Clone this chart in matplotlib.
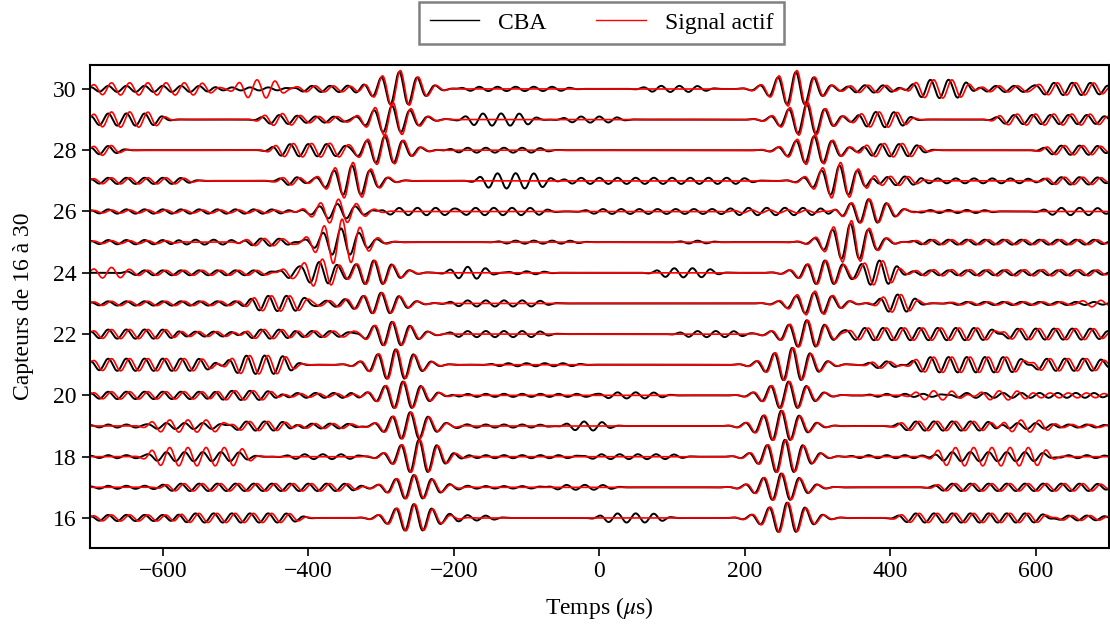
import numpy as np
import matplotlib
matplotlib.use("Agg")
import matplotlib.pyplot as plt

plt.rcParams["font.family"] = ["Liberation Serif", "DejaVu Serif"]
plt.rcParams["mathtext.fontset"] = "stix"

# sensors, bottom to top
channels = [16, 17, 18, 19, 20, 21, 22, 23, 24, 25, 26, 27, 28, 29, 30]

# main wave packets (time in us, amplitude in sensor units)
main_neg_t = [-255, -255, -248, -260, -270, -280, -285, -300, -310, -355, -360, -340, -295, -285, -275]
main_pos_t = [258, 250, 255, 250, 260, 265, 285, 295, 310, 345, 370, 330, 295, 285, 270]
main_neg_amp_cba = [0.45, 0.40, 0.55, 0.45, 0.45, 0.50, 0.40, 0.35, 0.40, 0.45, 0.25, 0.50, 0.45, 0.45, 0.55]
main_neg_amp_red = [0.45, 0.40, 0.55, 0.45, 0.45, 0.50, 0.40, 0.35, 0.40, 0.75, 0.40, 0.60, 0.50, 0.55, 0.60]
main_pos_amp_cba = [0.50, 0.45, 0.55, 0.50, 0.45, 0.55, 0.45, 0.35, 0.40, 0.60, 0.40, 0.50, 0.45, 0.50, 0.55]
main_pos_amp_red = [0.50, 0.45, 0.55, 0.50, 0.45, 0.55, 0.45, 0.40, 0.40, 0.70, 0.40, 0.60, 0.50, 0.55, 0.60]

# secondary ringing: (start, end, amplitude) per sensor
cba_segments = [
    [(-700, -580, 0.10), (-580, -410, 0.15), (-206, -140, 0.08), (0, 90, 0.15), (410, 620, 0.15), (620, 700, 0.08)],
    [(-700, -600, 0.05), (-600, -330, 0.12), (-206, -70, 0.04), (-70, 20, 0.08), (460, 700, 0.12)],
    [(-700, -620, 0.05), (-620, -480, 0.15), (-430, -330, 0.08), (-206, -22, 0.05), (-22, 115, 0.08),
     (345, 460, 0.05), (460, 620, 0.15), (620, 700, 0.05)],
    [(-700, -620, 0.05), (-620, -510, 0.10), (-510, -420, 0.15), (-420, -330, 0.08), (-206, -70, 0.05),
     (-46, 14, 0.15), (410, 550, 0.15), (550, 620, 0.10), (620, 700, 0.05)],
    [(-700, -530, 0.12), (-530, -440, 0.15), (-440, -330, 0.08), (-206, 0, 0.05), (0, 90, 0.10),
     (370, 480, 0.05), (480, 700, 0.08)],
    [(-700, -530, 0.20), (-510, -420, 0.30), (-150, -25, 0.05), (370, 410, 0.12), (430, 590, 0.25), (590, 700, 0.20)],
    [(-700, -580, 0.15), (-580, -490, 0.08), (-490, -420, 0.15), (-420, -330, 0.10), (-206, -70, 0.10),
     (110, 200, 0.10), (340, 550, 0.20), (550, 700, 0.18)],
    [(-700, -480, 0.07), (-480, -400, 0.25), (-400, -340, 0.08), (-206, -70, 0.10), (385, 435, 0.30), (480, 700, 0.05)],
    [(-650, -440, 0.08), (-440, -410, 0.20), (-410, -360, 0.35), (-206, -150, 0.20), (-125, -70, 0.05),
     (78, 160, 0.15), (360, 410, 0.40), (430, 700, 0.08)],
    [(-700, -580, 0.07), (-580, -490, 0.08), (-490, -420, 0.12), (-140, -25, 0.05), (110, 155, 0.05), (430, 700, 0.08)],
    [(-700, -420, 0.07), (-300, -195, 0.12), (-195, -70, 0.12), (-20, 180, 0.08), (180, 330, 0.12),
     (430, 540, 0.05), (610, 700, 0.12)],
    [(-700, -560, 0.10), (-440, -410, 0.15), (-165, -69, 0.25), (-50, 210, 0.10), (370, 440, 0.15),
     (440, 600, 0.08), (610, 700, 0.12)],
    [(-700, -660, 0.15), (-450, -348, 0.20), (-206, -70, 0.08), (362, 445, 0.20), (610, 700, 0.15)],
    [(-700, -600, 0.20), (-465, -415, 0.15), (-415, -350, 0.10), (-185, -90, 0.20), (-50, 30, 0.10),
     (355, 425, 0.25), (545, 700, 0.15)],
    [(-700, -530, 0.10), (-530, -420, 0.05), (-420, -325, 0.10), (-190, -40, 0.07), (60, 150, 0.10),
     (340, 410, 0.12), (430, 510, 0.30), (520, 600, 0.10), (600, 700, 0.20)],
]
red_segments = [
    [(-700, -580, 0.10), (-580, -410, 0.15), (410, 620, 0.15), (620, 700, 0.08)],
    [(-600, -330, 0.12), (460, 700, 0.12)],
    [(-620, -480, 0.30), (460, 620, 0.30)],
    [(-620, -510, 0.20), (-510, -420, 0.15), (-420, -330, 0.08), (410, 550, 0.15), (550, 620, 0.20), (620, 700, 0.05)],
    [(-700, -530, 0.12), (-530, -440, 0.15), (-440, -330, 0.06), (430, 500, 0.15), (520, 590, 0.15), (590, 700, 0.08)],
    [(-700, -530, 0.20), (-510, -420, 0.30), (370, 410, 0.12), (430, 590, 0.25), (590, 700, 0.20)],
    [(-700, -580, 0.15), (-580, -490, 0.08), (-490, -420, 0.15), (-420, -330, 0.10), (340, 550, 0.20), (550, 700, 0.18)],
    [(-700, -480, 0.07), (-480, -400, 0.25), (-400, -340, 0.08), (385, 435, 0.30), (480, 660, 0.05), (660, 700, 0.12)],
    [(-700, -650, 0.18), (-650, -440, 0.08), (-440, -410, 0.20), (-410, -360, 0.45), (360, 410, 0.40), (430, 700, 0.10)],
    [(-700, -580, 0.05), (-490, -420, 0.12), (430, 700, 0.08)],
    [(-700, -420, 0.05), (180, 330, 0.05)],
    [(-700, -560, 0.10), (-440, -410, 0.15), (370, 440, 0.15), (610, 700, 0.12)],
    [(-700, -660, 0.18), (-450, -348, 0.22), (362, 445, 0.22), (610, 700, 0.15)],
    [(-700, -600, 0.25), (-465, -415, 0.20), (-415, -350, 0.10), (355, 425, 0.25), (545, 700, 0.18)],
    [(-700, -530, 0.20), (-500, -435, 0.30), (-420, -325, 0.10), (340, 410, 0.12), (430, 510, 0.30),
     (520, 600, 0.10), (600, 700, 0.20)],
]

PERIOD = 25.0      # us, carrier period seen on the traces
SIGMA = 28.0       # us, width of the main packets
EDGE = 12.0        # us, taper of the ringing segments


def trace(t, t_neg, a_neg, t_pos, a_pos, segments, shift):
    y = np.zeros_like(t)
    for t0, a in [(t_neg, a_neg), (t_pos, a_pos)]:
        y += a * np.exp(-0.5 * ((t - t0) / SIGMA) ** 2) * np.cos(2 * np.pi * (t - t0 - shift) / PERIOD)
    for start, end, a in segments:
        env = 0.5 * (np.tanh((t - start) / EDGE) - np.tanh((t - end) / EDGE))
        y += a * env * np.cos(2 * np.pi * (t - start - 3 * shift) / PERIOD)
    return y


t = np.linspace(-700, 700, 2801)

fig = plt.figure(figsize=(11.1, 6.28), dpi=100)
ax = fig.add_axes([0.0811, 0.1274, 0.9177, 0.7691])

for i, ch in enumerate(channels):
    y_cba = trace(t, main_neg_t[i], main_neg_amp_cba[i], main_pos_t[i], main_pos_amp_cba[i], cba_segments[i], 0.0)
    y_red = trace(t, main_neg_t[i], main_neg_amp_red[i], main_pos_t[i], main_pos_amp_red[i], red_segments[i], 1.5)
    ax.plot(t, ch + y_cba, color="black", lw=1.4, label="CBA" if i == 0 else None)
    ax.plot(t, ch + y_red, color="red", lw=1.2, label="Signal actif" if i == 0 else None)

ax.set_xlim(-700, 700)
ax.set_ylim(15.02, 30.78)
ax.set_xticks([-600, -400, -200, 0, 200, 400, 600])
ax.set_xticklabels(["\u2212600", "\u2212400", "\u2212200", "0", "200", "400", "600"])
ax.set_yticks([16, 18, 20, 22, 24, 26, 28, 30])
ax.tick_params(labelsize=17, length=6, width=1.2, pad=3.5)
for s in ax.spines.values():
    s.set_linewidth(1.5)
ax.set_xlabel("Temps ($\\mu$s)", fontsize=17, labelpad=9)
ax.set_ylabel("Capteurs de 16 \u00e0 30", fontsize=17, labelpad=14)

leg = ax.legend(loc="center", bbox_to_anchor=(0.502, 1.087), ncol=2, fontsize=17,
                fancybox=False, framealpha=1, edgecolor="gray", handlelength=2.1,
                columnspacing=2.1, handletextpad=0.8, borderpad=0.45)
leg.get_frame().set_linewidth(1.8)
for h in leg.legend_handles:
    h.set_linewidth(1.0)

fig.savefig("out.png", dpi=100)
